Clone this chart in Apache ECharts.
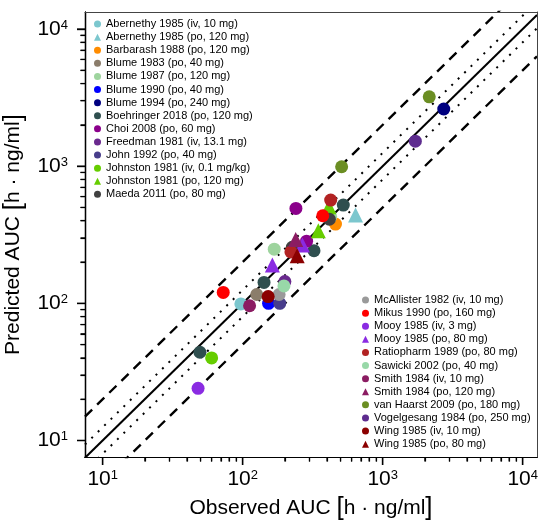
<!DOCTYPE html>
<html><head><meta charset="utf-8">
<script src="https://cdn.jsdelivr.net/npm/echarts@6/dist/echarts.min.js"></script>
<style>html,body{margin:0;padding:0;background:#fff}#c{width:540px;height:520px}</style>
</head><body><div id="c"></div>
<script>
// ---- data ----
const studyNames = [
  'Abernethy 1985 (iv, 10 mg)', 'Abernethy 1985 (po, 120 mg)', 'Barbarash 1988 (po, 120 mg)',
  'Blume 1983 (po, 40 mg)', 'Blume 1987 (po, 120 mg)', 'Blume 1990 (po, 40 mg)',
  'Blume 1994 (po, 240 mg)', 'Boehringer 2018 (po, 120 mg)', 'Choi 2008 (po, 60 mg)',
  'Freedman 1981 (iv, 13.1 mg)', 'John 1992 (po, 40 mg)', 'Johnston 1981 (iv, 0.1 mg/kg)',
  'Johnston 1981 (po, 120 mg)', 'Maeda 2011 (po, 80 mg)',
  'McAllister 1982 (iv, 10 mg)', 'Mikus 1990 (po, 160 mg)', 'Mooy 1985 (iv, 3 mg)',
  'Mooy 1985 (po, 80 mg)', 'Ratiopharm 1989 (po, 80 mg)', 'Sawicki 2002 (po, 40 mg)',
  'Smith 1984 (iv, 10 mg)', 'Smith 1984 (po, 120 mg)', 'van Haarst 2009 (po, 180 mg)',
  'Vogelgesang 1984 (po, 250 mg)', 'Wing 1985 (iv, 10 mg)', 'Wing 1985 (po, 80 mg)'
];
const observedAUC = [
  [97], [640], [460], [126], [168, 425], [153], [2730], [49.5, 142, 323, 523], [240, 286],
  [200], [184], [60], [413, 347], [416, 226],
  [182], [72.6, 373], [48], [267, 163], [425, 221], [197], [112], [239], [2150, 509],
  [1710], [152], [245]
];
const predictedAUC = [
  [99], [440], [378], [116], [248, 427], [100], [2610], [44, 142, 242, 520], [492, 284],
  [144], [100], [40], [506, 338], [410, 256],
  [116], [120, 435], [24], [266, 190], [566, 237], [134], [96], [292], [3200, 990],
  [1520], [112], [222]
];
const foldLines = [1, 1.25, 2];
const majorTicks = [10, 100, 1000, 10000];
const minorTicks = [20,30,40,50,60,70,80,90,200,300,400,500,600,700,800,900,2000,3000,4000,5000,6000,7000,8000,9000];
const axisRangeX = [7.475, 12650];
const axisRangeY = [7.58, 13300];

// ---- styles ----
const studyColors = [
  '#7CC7CE', '#7CC7CE', '#FF8C00', '#8B7D6B', '#9ED49E', '#0000FF', '#000080', '#2F4F4F',
  '#8B008B', '#6A2A8E', '#483D8B', '#66CD00', '#66CD00', '#404040',
  '#9A9A9A', '#FF0000', '#8A2BE2', '#8A2BE2', '#B22222', '#98D8A8', '#8B1C62', '#8B1C62',
  '#6B8E23', '#5E2C8F', '#8B0000', '#8B0000'
];
const studyShapes = studyNames.map(n => /\(po/.test(n) && /Abernethy|Johnston|Mooy|Smith|Wing/.test(n) ? 'triangle' : 'circle');
const FF = "'Liberation Sans', Arial, sans-serif";
const lg = Math.log10;

const series = [];
foldLines.forEach(f => {
  const ks = f === 1 ? [1] : [f, 1 / f];
  ks.forEach(k => {
    series.push({
      type: 'line', xAxisIndex: 0, yAxisIndex: 0, silent: true, symbol: 'none', z: 1,
      clip: true, animation: false,
      data: [[lg(axisRangeX[0]), lg(axisRangeX[0] * k)], [lg(axisRangeX[1]), lg(axisRangeX[1] * k)]],
      lineStyle: {
        color: '#000', width: f === 1 ? 2 : (f === 2 ? 2.4 : 2),
        type: f === 1 ? 'solid' : (f === 2 ? [10, 7] : [2, 7]), cap: 'butt'
      }
    });
  });
});
studyNames.forEach((name, i) => {
  series.push({
    name, type: 'scatter', xAxisIndex: 0, yAxisIndex: 0, z: 3, animation: false,
    symbol: studyShapes[i], symbolSize: studyShapes[i] === 'triangle' ? 15 : 13,
    itemStyle: { color: studyColors[i], opacity: 1 },
    data: observedAUC[i].map((x, j) => [lg(x), lg(predictedAUC[i][j])])
  });
});

const labRich = {
  b: { fontSize: 21, lineHeight: 21, padding: [6, 0, 0, 0], verticalAlign: 'bottom', fontFamily: FF, color: '#000' },
  s: { fontSize: 13, lineHeight: 16, verticalAlign: 'top', fontFamily: FF, color: '#000' }
};
const labFmt = v => '{b|10}{s|' + Math.round(v) + '}';
const nameRich = {
  t: { fontSize: 21, fontFamily: FF, color: '#000' },
  br: { fontSize: 26, fontFamily: FF, color: '#000' }
};

// kind: 'major' | 'minor' | 'majorbar' | 'border'
function mkAxis(range, isX, kind) {
  const major = kind === 'major';
  const border = kind === 'border';
  const bar = kind === 'minor' || kind === 'majorbar';
  const len = kind === 'minor' ? 4.5 : 8;
  const vals = (kind === 'minor' ? minorTicks : majorTicks).map(lg);
  const ax = {
    type: 'value', min: lg(range[0]), max: lg(range[1]), gridIndex: 0, z: 5,
    position: border ? (isX ? 'top' : 'right') : (isX ? 'bottom' : 'left'),
    splitLine: { show: false },
    axisLine: { show: true, onZero: false, lineStyle: { color: border ? '#444' : 'black', width: border ? 1 : 1.2 } },
    axisTick: border ? { show: false } : { show: true, inside: false, length: len,
      customValues: vals, lineStyle: { color: 'black', width: 1.2 } },
    axisLabel: { show: false }
  };
  if (major) {
    ax.axisLabel = { show: true, customValues: vals, formatter: labFmt, rich: labRich, margin: isX ? 12 : 17 };
    ax.name = isX ? '{t|Observed AUC }{br|[}{t|h · ng/ml}{br|]}' : '{t|Predicted AUC }{br|[}{t|h · ng/ml}{br|]}';
    ax.nameLocation = 'middle';
    ax.nameGap = isX ? 35 : 53;
    ax.nameTextStyle = { rich: nameRich };
  }
  if (bar) {
    const w = isX ? 1.2 : len, h = isX ? len : 1.2;
    ax.axisLabel = { show: true, customValues: vals, margin: 0, hideOverlap: false,
      formatter: () => '{m| }',
      rich: { m: { fontSize: 1, width: w, height: h, lineHeight: h, backgroundColor: '#000', padding: 0 } } };
  }
  return ax;
}

const chart = echarts.init(document.getElementById('c'));
chart.setOption({
  animation: false,
  grid: { left: 85, top: 12, width: 452, height: 445, outerBoundsMode: 'none' },
  xAxis: ['major', 'minor', 'majorbar', 'border'].map(k => mkAxis(axisRangeX, true, k)),
  yAxis: ['major', 'minor', 'majorbar', 'border'].map(k => mkAxis(axisRangeY, false, k)),
  legend: [
    { data: studyNames.slice(0, 14).map((n, i) => ({ name: n, icon: studyShapes[i] })),
      orient: 'vertical', left: 94, top: 17.5, padding: 0, itemGap: 0, itemWidth: 7, itemHeight: 7,
      selectedMode: false, textStyle: { fontSize: 11, lineHeight: 13.1, color: '#000', fontFamily: FF } },
    { data: studyNames.slice(14).map((n, i) => ({ name: n, icon: studyShapes[i + 14] })),
      orient: 'vertical', left: 362, top: 293.5, padding: 0, itemGap: 0, itemWidth: 7, itemHeight: 7,
      selectedMode: false, textStyle: { fontSize: 11, lineHeight: 13.1, color: '#000', fontFamily: FF } }
  ],
  series
});
</script>
</body></html>
